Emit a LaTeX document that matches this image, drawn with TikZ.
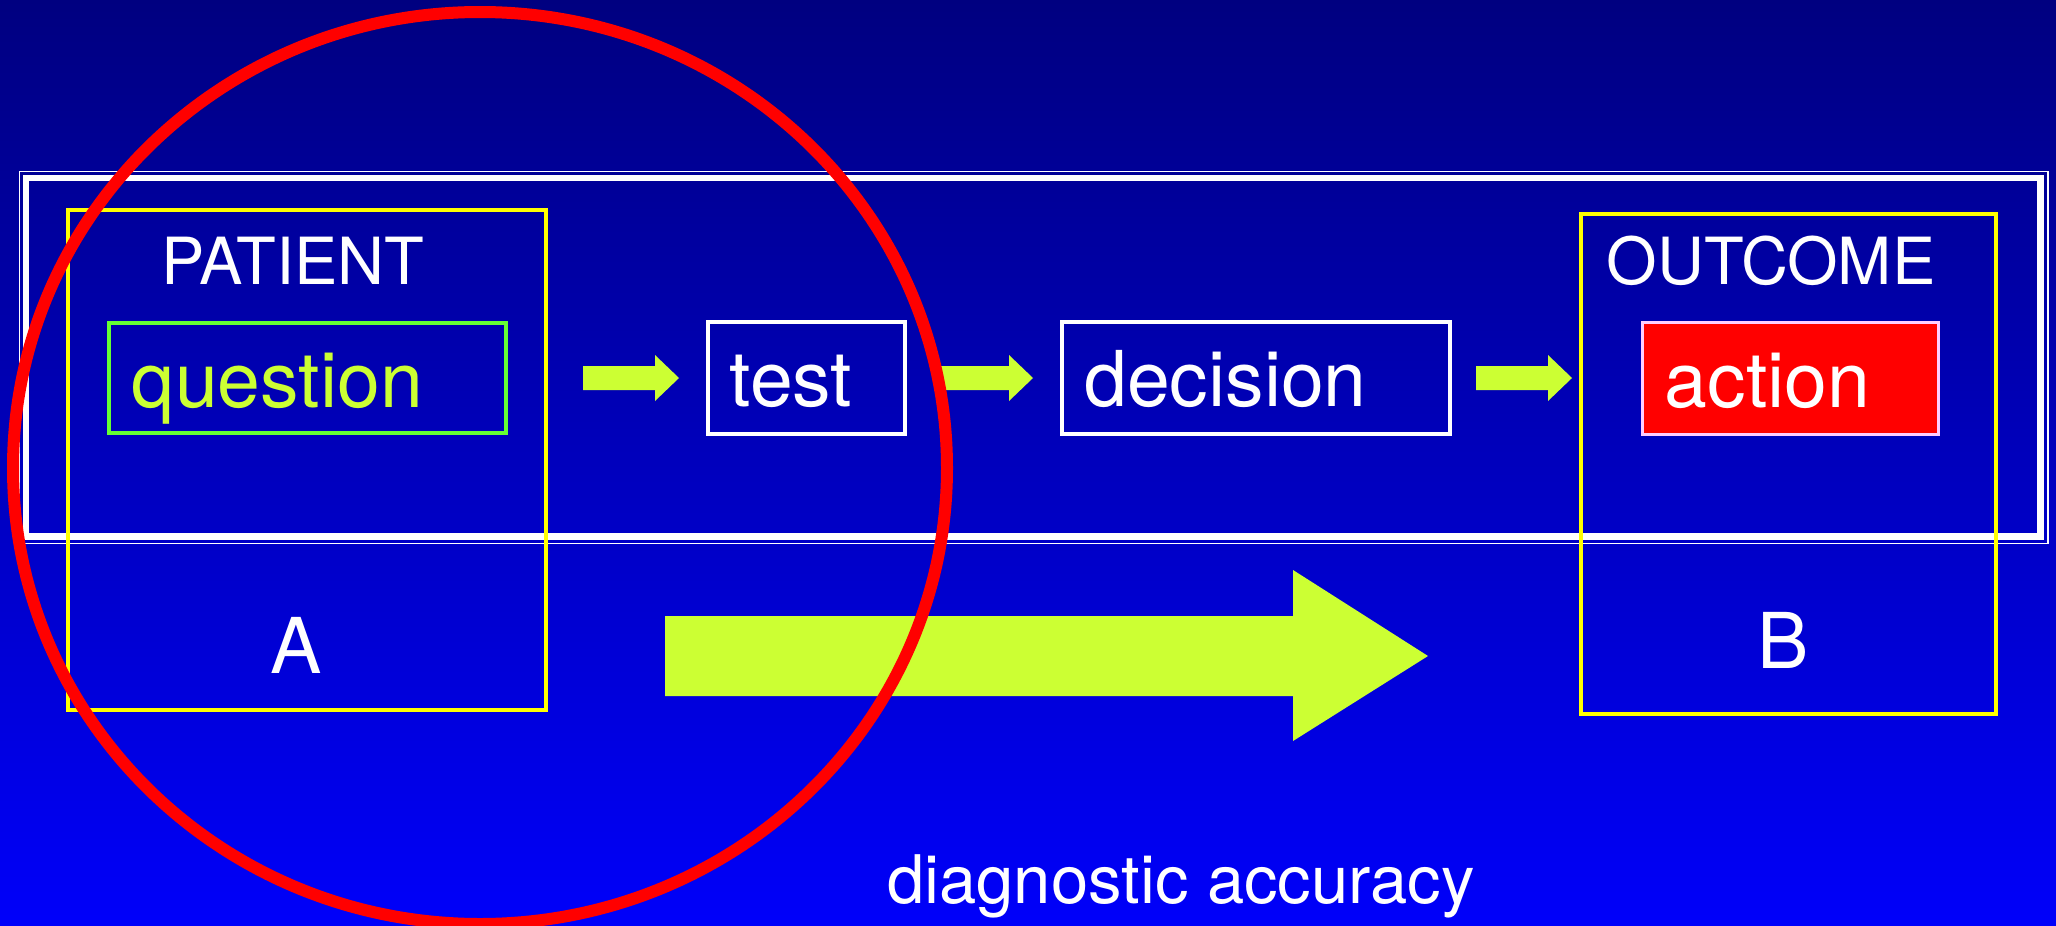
\documentclass[tikz,border=0pt]{standalone}
\usepackage{fontspec}
\setmainfont{TeX Gyre Heros}
\definecolor{bgtop}{RGB}{0,0,128}
\definecolor{bgbot}{RGB}{0,0,250}
\definecolor{limegreen}{RGB}{204,255,51}
\definecolor{boxgreen}{RGB}{102,255,51}
\definecolor{palepink}{RGB}{255,204,255}
\definecolor{ringred}{RGB}{255,0,0}
\definecolor{signyellow}{RGB}{255,255,0}
\tikzset{
  frame/.style={draw=white, fill=none, inner sep=0, outer sep=0},
  groupbox/.style={draw=signyellow, line width=4, inner sep=0, outer sep=0, minimum height=500},
  stepbox/.style={draw=white, line width=4, inner sep=0, outer sep=0, minimum height=112},
  boxtext/.style={inner sep=0, text=white, font=\fontsize{77}{90}\selectfont, anchor=base},
  headtext/.style={inner sep=0, text=white, font=\fontsize{65}{78}\selectfont, anchor=base},
  blockarrow/.style={fill=limegreen, draw=none}
}
\begin{document}
\begin{tikzpicture}[x=1pt, y=-1pt]
  \useasboundingbox (0,0) rectangle (2056,926);
  % background
  \shade[top color=bgtop, bottom color=bgbot] (0,0) rectangle (2056,926);

  % double white frame
  \node[frame, line width=1.8, minimum width=2028.5, minimum height=372] (outerframe) at (1033.75,357.5) {};
  \node[frame, line width=6.5, minimum width=2014.5, minimum height=358.5] (innerframe) at (1033.25,357.25) {};

  % yellow group boxes
  \node[groupbox, minimum width=478] (patientgroup) at (307,460) {};
  \node[groupbox, minimum width=415] (outcomegroup) at (1788.5,464) {};

  % headings
  \node[headtext] (patientlbl) at (293,284) {PATIENT};
  \node[headtext] (outcomelbl) at (1771,284) {OUTCOME};

  % step boxes
  \node[draw=boxgreen, line width=4, inner sep=0, outer sep=0, minimum width=397, minimum height=110] (question) at (307.5,378) {};
  \node[stepbox, minimum width=197] (test) at (806,378) {};
  \node[stepbox, minimum width=388] (decision) at (1255.5,378) {};
  \node[draw=palepink, fill=ringred, line width=3, inner sep=0, outer sep=0, minimum width=296, minimum height=112] (action) at (1790.5,378.5) {};

  \node[boxtext, text=limegreen] (questiontxt) at (277.5,407) {question};
  \node[boxtext] (testtxt) at (791,406) {test};
  \node[boxtext] (decisiontxt) at (1225.5,406) {decision};
  \node[boxtext] (actiontxt) at (1767.5,407) {action};

  % small block arrows between the steps
  \fill[blockarrow] (583,366) -- (655,366) -- (655,355) -- (679,378) -- (655,401) -- (655,390) -- (583,390) -- cycle;
  \fill[blockarrow] (937,366) -- (1009,366) -- (1009,355) -- (1033,378) -- (1009,401) -- (1009,390) -- (937,390) -- cycle;
  \fill[blockarrow] (1476,366) -- (1548,366) -- (1548,355) -- (1572,378) -- (1548,401) -- (1548,390) -- (1476,390) -- cycle;

  % A and B labels
  \node[boxtext] (labelA) at (296,673) {A};
  \node[boxtext] (labelB) at (1783,668) {B};

  % large arrow from A to B
  \fill[blockarrow] (665,616) -- (1293,616) -- (1293,570) -- (1428,656) -- (1293,741) -- (1293,696) -- (665,696) -- cycle;

  % caption
  \node[inner sep=0, text=white, font=\fontsize{67}{80}\selectfont, anchor=base] (caption) at (1181,903) {diagnostic accuracy};

  % red ring
  \draw[ringred, line width=12] (480,468) ellipse [x radius=467, y radius=456];
\end{tikzpicture}
\end{document}
